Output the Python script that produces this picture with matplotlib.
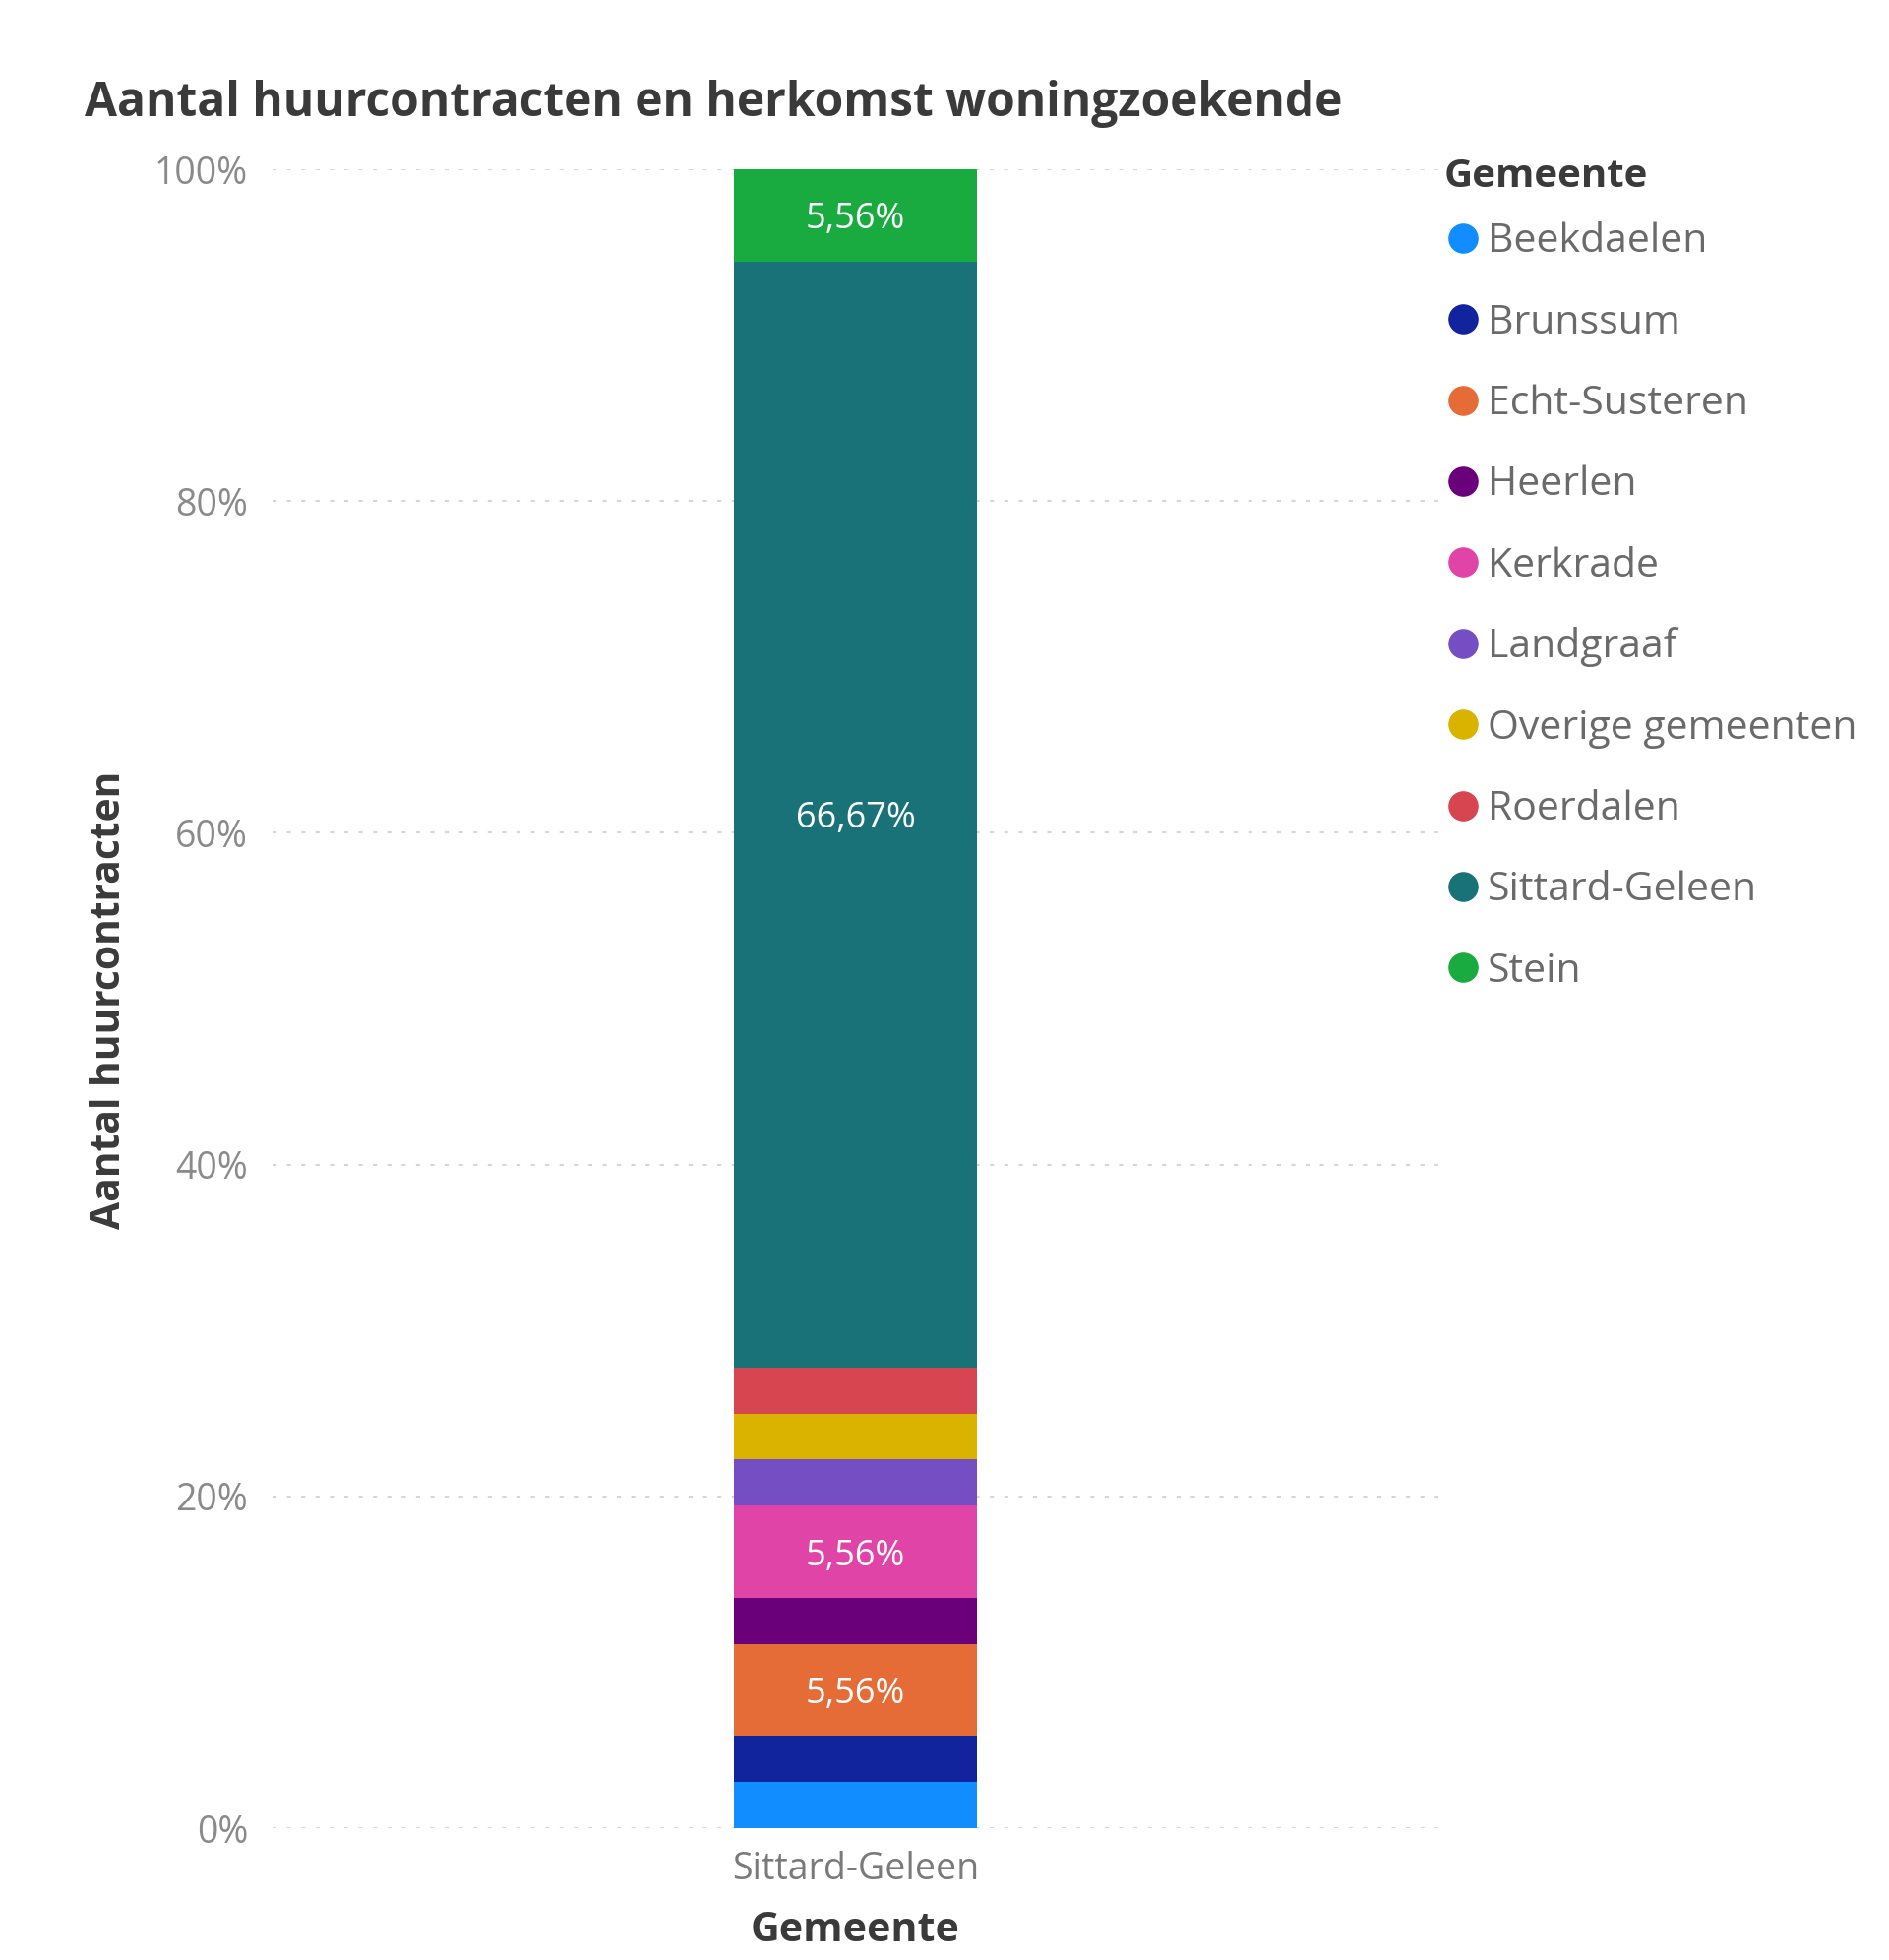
import matplotlib.pyplot as plt
from matplotlib.lines import Line2D

# Data: aantal huurcontracten per herkomstgemeente (Sittard-Geleen)
gemeenten = ['Beekdaelen', 'Brunssum', 'Echt-Susteren', 'Heerlen', 'Kerkrade',
             'Landgraaf', 'Overige gemeenten', 'Roerdalen', 'Sittard-Geleen', 'Stein']
aantallen = [1, 1, 2, 1, 2, 1, 1, 1, 24, 2]
kleuren = ['#118DFF', '#12239E', '#E66C37', '#6B007B', '#E044A7',
           '#744EC2', '#D9B300', '#D64550', '#197278', '#1AAB40']
categorie = 'Sittard-Geleen'
yticks = [0, 20, 40, 60, 80, 100]

totaal = sum(aantallen)
pct = [a / totaal * 100 for a in aantallen]

plt.rcParams['font.family'] = ['Open Sans', 'DejaVu Sans']

W, H = 1920, 1992
fig = plt.figure(figsize=(W / 100, H / 100), dpi=100)
# plot area in pixels: x 277..1462, y 172..1858
ax = fig.add_axes([277 / W, 1 - 1858 / H, (1462 - 277) / W, (1858 - 172) / H])

bottom = 0
for naam, p, kleur in zip(gemeenten, pct, kleuren):
    ax.bar(0, p, bottom=bottom, width=0.209, color=kleur, zorder=3)
    if p > 4:
        ax.text(0, bottom + p / 2, f'{p:.2f}%'.replace('.', ','), ha='center', va='center_baseline',
                color='white', fontsize=26, zorder=4)
    bottom += p

ax.set_xlim(-0.5, 0.5)
ax.set_ylim(0, 100)
ax.set_yticks(yticks)
ax.set_yticklabels([f'{t}%' for t in yticks], color='#8A8A8A', fontsize=27)
ax.set_xticks([0])
ax.set_xticklabels([categorie], color='#7A7A7A', fontsize=27)
ax.tick_params(length=0)
ax.tick_params(axis='y', pad=18)
ax.tick_params(axis='x', pad=16.5)
ax.grid(axis='y', linestyle=(0, (2, 5)), color='#D6D6D6', linewidth=1.5, zorder=0)
for s in ax.spines.values():
    s.set_visible(False)

ax.set_ylabel('Aantal huurcontracten', fontsize=29.3, fontweight='bold', color='#3A3A3A')
ax.yaxis.set_label_coords((111 - 277) / (1462 - 277), (1858 - 1016) / (1858 - 172))
ax.yaxis.label.set_va('center')
ax.set_xlabel('Gemeente', fontsize=29.7, fontweight='bold', color='#3A3A3A')
ax.xaxis.set_label_coords(0.5, -(1962 - 1858) / (1858 - 172))
ax.xaxis.label.set_va('center')

fig.text(86 / W, 1 - 118 / H, 'Aantal huurcontracten en herkomst woningzoekende',
         fontsize=34.5, fontweight='bold', color='#3A3A3A', va='baseline', ha='left')

# legenda
fig.text(1468 / W, 1 - 179 / H, 'Gemeente', fontsize=29, fontweight='bold',
         color='#3A3A3A', va='center', ha='left')
handles = [Line2D([], [], marker='o', linestyle='', markersize=21, color=k) for k in kleuren]
leg = fig.legend(handles, gemeenten, loc='upper left', bbox_to_anchor=(1468 / W, 1 - 226 / H),
                 frameon=False, fontsize=29.5, handlelength=0.93, handletextpad=0.15,
                 labelspacing=1.02, borderpad=0, borderaxespad=0)
for t in leg.get_texts():
    t.set_color('#6A6A6A')

fig.savefig('out.png', dpi=100)
